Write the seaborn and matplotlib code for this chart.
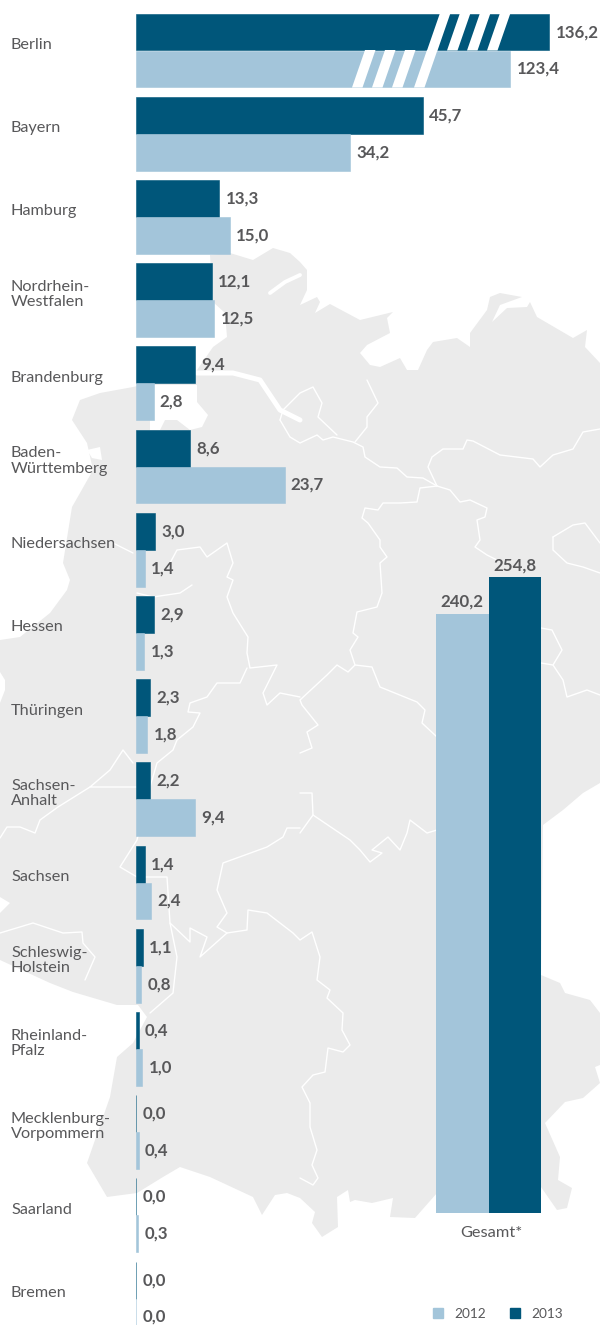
import numpy as np
import pandas as pd
import matplotlib
matplotlib.use('Agg')
import matplotlib.pyplot as plt
from matplotlib.patches import Patch
import seaborn as sns

#------------------------------------------------------------
# Daten
#------------------------------------------------------------
laender = ['Berlin', 'Bayern', 'Hamburg', 'Nordrhein-\nWestfalen', 'Brandenburg',
           'Baden-\nWürttemberg', 'Niedersachsen', 'Hessen', 'Thüringen',
           'Sachsen-\nAnhalt', 'Sachsen', 'Schleswig-\nHolstein', 'Rheinland-\nPfalz',
           'Mecklenburg-\nVorpommern', 'Saarland', 'Bremen']
werte_2013 = [136.2, 45.7, 13.3, 12.1, 9.4, 8.6, 3.0, 2.9, 2.3, 2.2, 1.4, 1.1, 0.4, 0.0, 0.0, 0.0]
werte_2012 = [123.4, 34.2, 15.0, 12.5, 2.8, 23.7, 1.4, 1.3, 1.8, 9.4, 2.4, 0.8, 1.0, 0.4, 0.3, 0.0]
# Berlin is drawn with a broken axis, these are the drawn lengths
berlin_2013_gekappt = 65.9
berlin_2012_gekappt = 59.7
jahre = ['2012', '2013']
gesamt = [240.2, 254.8]

HELL = '#a3c5da'
DUNKEL = '#00567a'
TEXT = '#58585a'
KARTE = '#ebebeb'

#------------------------------------------------------------
# Hintergrundkarte (Pixel des Bildes, nur Dekoration)
#------------------------------------------------------------
umriss = [(210,255),(230,253),(253,260),(273,248),(290,253),(300,262),(307,270),(307,290),(300,305),
          (317,297),(320,302),(315,313),(330,304),(360,320),(393,312),(387,318),(390,333),(367,345),
          (360,353),(370,365),(380,367),(400,358),(407,370),(418,370),(427,350),(433,342),(457,338),
          (470,347),(470,333),(487,310),(490,297),(500,293),(522,297),(500,305),(492,322),(507,308),
          (527,307),(530,302),(537,317),(573,338),(587,330),(585,347),(600,363),(600,783),(583,793),
          (563,810),(543,825),(541,975),(560,983),(565,993),(590,1000),(600,1013),(600,1065),(595,1067),
          (600,1083),(583,1098),(565,1102),(545,1123),(560,1157),(558,1180),(572,1188),(567,1208),
          (557,1210),(541,1187),(437,1193),(415,1218),(390,1217),(393,1198),(372,1203),(355,1200),
          (350,1202),(348,1190),(337,1197),(338,1227),(322,1237),(312,1223),(315,1212),(300,1198),
          (287,1193),(275,1195),(262,1215),(253,1197),(210,1177),(180,1167),(163,1177),(137,1193),
          (107,1197),(87,1163),(110,1097),(117,1057),(133,1043),(147,1017),(138,1005),(117,1005),
          (73,992),(50,983),(0,960),(0,913),(10,903),(0,897),(0,703),(5,690),(5,680),(0,672),(0,640),
          (20,637),(50,613),(67,590),(70,580),(63,563),(72,507),(80,493),(93,470),(87,443),(72,420),
          (80,400),(100,393),(133,387),(195,373),(213,347),(227,337),(225,313),(213,302)]
jade = [(150,385),(197,385),(197,402),(208,415),(202,427),(190,430),(177,420),(165,420),(160,430),(150,430)]
dollart = [(87,450),(100,447),(102,460),(92,458)]
elbe = [(197,373),(233,373),(260,380),(280,410),(300,420)]
bucht = [(270,293),(285,282),(300,275)]
grenzen = [
    [(367,380),(378,403),(367,417),(367,427),(355,442)],
    [(280,420),(290,437),(300,443),(317,435),(323,440),(333,437),(353,442),(363,447),(365,457),(380,467),
     (397,468),(407,477),(423,478),(437,486)],
    [(337,435),(318,417),(322,403),(313,387),(300,393),(283,410),(280,420)],
    [(437,486),(428,467),(432,457),(443,449),(463,449),(467,440),(473,441),(500,455),(533,459),(540,467),
     (553,455),(573,449),(583,432),(600,429)],
    [(437,486),(450,490),(460,502),(470,500),(487,508),(485,517),(477,520),(480,540),(475,547),(487,555),
     (497,560)],
    [(437,486),(420,488),(417,502),(400,503),(383,503),(378,510),(365,508),(362,518),(368,523),(380,540),
     (380,547),(387,557),(380,563),(382,593),(377,607),(357,612),(353,633),(358,637),(350,650),(355,665),
     (372,667),(380,687),(417,702),(425,710),(422,723),(437,737)],
    [(355,665),(348,672),(337,665),(327,675),(300,700),(302,705),(318,725),(307,732),(312,748),(300,753)],
    [(300,697),(280,693),(267,705),(263,693),(277,665),(250,668),(247,653),(248,637),(233,613),(227,597),
     (233,580),(227,577),(233,563),(227,543),(207,557),(200,547),(177,550),(170,563)],
    [(113,543),(127,550),(133,553)],
    [(137,593),(153,597),(180,593),(192,585)],
    [(247,668),(240,683),(217,683),(207,697),(190,703),(188,712),(200,713),(193,727),(177,740),(173,750),
     (157,763),(150,787),(90,787),(110,770),(123,750),(133,763)],
    [(90,787),(58,807),(40,820),(35,833),(20,827),(7,827),(0,838)],
    [(150,787),(137,840),(120,867),(137,877),(167,877),(170,923),(177,957),(173,993),(150,1013)],
    [(300,828),(287,828),(283,837),(267,847),(223,863),(217,890),(227,913),(217,927),(227,933),(200,957),
     (207,937),(190,928),(190,942),(170,923)],
    [(227,933),(247,930),(248,910),(267,913),(293,933),(300,940),(312,932),(320,957),(317,980),(330,990),
     (327,998),(343,1013),(342,1030),(350,1045),(343,1052),(328,1048),(325,1072),(313,1075),(302,1087),
     (310,1103),(310,1127),(317,1150),(312,1165),(318,1178),(313,1185),(300,1178)],
    [(0,933),(33,923),(63,933),(82,932),(83,943),(95,957),(85,980)],
    [(553,537),(573,525),(585,523),(600,543)],
    [(553,537),(553,550),(567,563),(583,567),(600,573)],
    [(541,628),(552,630),(562,650),(553,665),(541,663)],
    [(553,665),(563,680),(567,697),(587,690),(600,695)],
    [(300,793),(312,793),(313,815),(350,840),(360,850),(370,862),(382,853),(372,850),(388,837),(400,850),
     (407,833),(410,820),(427,833),(437,830)],
    [(313,815),(300,833)],
]

def px_axes(fig):
    ax = fig.add_axes([0, 0, 1, 1], zorder=0)
    ax.set_xlim(0, 600)
    ax.set_ylim(1325, 0)
    ax.axis('off')
    return ax

def zeichne_karte(ax):
    ax.fill(*zip(*umriss), color=KARTE, lw=0)
    ax.fill(*zip(*jade), color='white', lw=0)
    ax.fill(*zip(*dollart), color='white', lw=0)
    ax.plot(*zip(*elbe), color='white', lw=3.6, solid_capstyle='round')
    ax.plot(*zip(*bucht), color='white', lw=2.8, solid_capstyle='round')
    for linie in grenzen:
        ax.plot(*zip(*linie), color='white', lw=1.0, solid_joinstyle='round')

#------------------------------------------------------------
# Figur
#------------------------------------------------------------
sns.set_theme(style='white')
plt.rcParams['font.family'] = ['Lato', 'DejaVu Sans']

fig = plt.figure(figsize=(6, 13.25), dpi=100, facecolor='white')
ax_px = px_axes(fig)
zeichne_karte(ax_px)

# Balken nach Bundesland
gezeichnet_2013 = [berlin_2013_gekappt] + werte_2013[1:]
gezeichnet_2012 = [berlin_2012_gekappt] + werte_2012[1:]
df = pd.DataFrame({
    'land': laender * 2,
    'wert': gezeichnet_2013 + gezeichnet_2012,
    'jahr': ['2013'] * len(laender) + ['2012'] * len(laender),
})

ax = fig.add_axes([136 / 600, 0, 464 / 600, 1], zorder=1)
ax.patch.set_alpha(0)
sns.barplot(data=df, y='land', x='wert', hue='jahr', order=laender, hue_order=['2013', '2012'],
            palette={'2013': DUNKEL, '2012': HELL}, saturation=1, width=0.885, gap=0,
            linewidth=0.4, edgecolor=None, legend=False, ax=ax)
for cont, farbe in zip(ax.containers, [DUNKEL, HELL]):
    for rect in cont:
        rect.set_edgecolor(farbe)
ax.set_xlim(0, 464 / 6.27)
ax.set_ylim((1325 - 50.5) / 83.2, -50.5 / 83.2)
ax.axis('off')

for cont, werte in zip(ax.containers, [werte_2013, werte_2012]):
    ax.bar_label(cont, labels=[f'{w:.1f}'.replace('.', ',') for w in werte], padding=4.5,
                 fontsize=12.2, fontweight='bold', color=TEXT, clip_on=False)

for i, land in enumerate(laender):
    ax_px.text(11, 50 + 83.2 * i - 5, land, fontsize=11.7, color=TEXT, va='center', ha='left',
               linespacing=1.12, zorder=5)

# Bruchstreifen Berlin
for x0 in [440, 460, 480, 500]:
    ax.fill([x0, x0 + 10.5, x0 - 2.5, x0 - 13], [13, 13, 50.5, 50.5], color='white', lw=0,
            transform=ax_px.transData, zorder=10)
for x0 in [365, 385, 405, 427]:
    ax.fill([x0, x0 + 10.5, x0 - 2.5, x0 - 13], [50, 50, 87.5, 87.5], color='white', lw=0,
            transform=ax_px.transData, zorder=10)

# Gesamt
ax2 = fig.add_axes([436 / 600, (1325 - 1213) / 1325, 105 / 600, 653 / 1325], zorder=2)
ax2.patch.set_alpha(0)
sns.barplot(x=jahre, y=gesamt, hue=jahre, palette=[HELL, DUNKEL], saturation=1, width=1,
            dodge=False, legend=False, linewidth=0, ax=ax2)
ax2.set_xlim(-0.5, 1.5)
ax2.set_ylim(0, 653 / 2.495)
ax2.axis('off')
for cont, w in zip(ax2.containers, gesamt):
    ax2.bar_label(cont, labels=[f'{w:.1f}'.replace('.', ',')], padding=3, fontsize=12.2,
                  fontweight='bold', color=TEXT, clip_on=False)
ax_px.text(491, 1233, 'Gesamt*', fontsize=11.8, color=TEXT, ha='center', va='center')

fig.legend(handles=[Patch(color=HELL, label='2012'), Patch(color=DUNKEL, label='2013')],
           loc='center left', bbox_to_anchor=(433 / 600, 1 - 1314 / 1325), ncols=2, frameon=False,
           fontsize=9.8, labelcolor=TEXT, borderpad=0, borderaxespad=0, handlelength=0.75,
           handleheight=0.75, handletextpad=0.85, columnspacing=1.7)

fig.savefig('out.png', dpi=100)
